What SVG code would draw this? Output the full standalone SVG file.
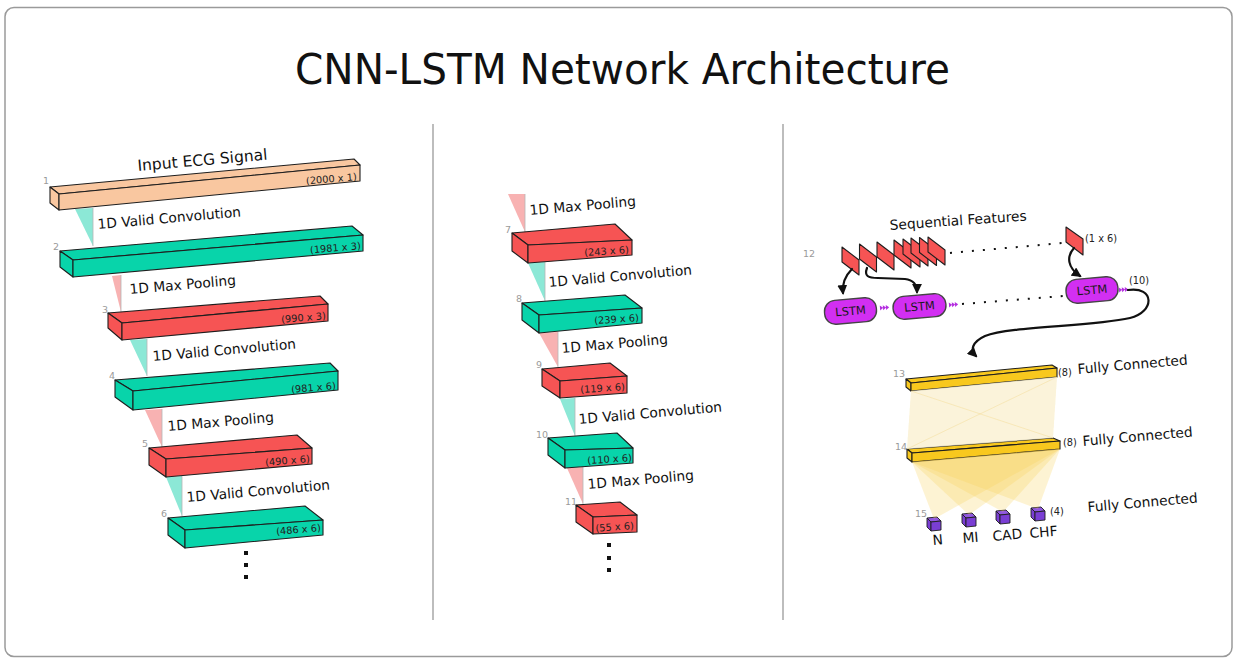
<svg xmlns="http://www.w3.org/2000/svg" width="1238" height="661" viewBox="0 0 1238 661">
<defs>
<style>
text{font-family:"DejaVu Sans",Verdana,sans-serif}
.lbl{font-size:13.8px;fill:#111}
.big{font-size:15.5px;fill:#111}
.dim{font-size:9.8px;fill:#222}
.num{font-size:9.5px;fill:#9a9a9a}
.box polygon{stroke:#1e1e1e;stroke-width:1.1;stroke-linejoin:round}
.peach polygon{fill:#f9c7a0}
.teal polygon{fill:#08d4aa}
.red polygon{fill:#f65454}
.gold polygon{fill:#f8c81e}
.cube polygon{fill:#7a3ed4;stroke:#1e1e1e;stroke-width:0.9;stroke-linejoin:round}
.cube polygon.t{fill:#9159e0}
.tt{fill:#8ce8d6}
.tp{fill:#f8b2b2}
.tedge{stroke:#b5b5b5;stroke-width:0.8}
.arr{fill:none;stroke:#111;stroke-width:2.2;stroke-linecap:round}
.dots{stroke:#111;stroke-width:2;stroke-dasharray:2 9}
.lstm rect{fill:#d22ff2;stroke:#444;stroke-width:1.4}
.lstm text{font-size:11.5px;fill:#1a1a1a;text-anchor:middle}
.div{stroke:#bdbdbd;stroke-width:2}
.fan1{fill:#f7d36a;fill-opacity:0.07}
.fan2{fill:#f7cf55;fill-opacity:0.26}
.fline{stroke:#f2d88a;stroke-width:0.8;stroke-opacity:0.5}
.sq{fill:#111}
</style>
<marker id="ah" viewBox="0 0 10 10" refX="8" refY="5" markerWidth="4.5" markerHeight="4.5" orient="auto" markerUnits="strokeWidth">
<path d="M0,0 L10,5 L0,10 z" fill="#111"/>
</marker>
<g id="chev" fill="#b42ee0">
<polygon points="0,-2.6 3.2,0 0,2.6"/>
<polygon points="3,-2.6 6.2,0 3,2.6"/>
<polygon points="6,-2.6 9.2,0 6,2.6"/>
</g>
</defs>
<rect x="0" y="0" width="1238" height="661" fill="#fff"/>
<rect x="5" y="7.5" width="1227" height="649" rx="9" fill="#fff" stroke="#9a9a9a" stroke-width="1.5"/>
<text x="295" y="84" font-size="42" fill="#111" textLength="655" lengthAdjust="spacingAndGlyphs">CNN-LSTM Network Architecture</text>
<line class="div" x1="433" y1="124" x2="433" y2="620"/>
<line class="div" x1="783" y1="124" x2="783" y2="620"/>

<g id="triangles">
<polygon class="tt" points="75,209 93,208 93,246"/><line class="tedge" x1="93" y1="208" x2="93" y2="246"/>
<polygon class="tp" points="112,276 121,275 121,312"/><line class="tedge" x1="121" y1="275" x2="121" y2="312"/>
<polygon class="tt" points="130,340 147,339 147,376"/><line class="tedge" x1="147" y1="339" x2="147" y2="376"/>
<polygon class="tp" points="145,410 162,409 162,447"/><line class="tedge" x1="162" y1="409" x2="162" y2="447"/>
<polygon class="tt" points="166,477 182,476 182,516"/><line class="tedge" x1="182" y1="476" x2="182" y2="516"/>
<polygon class="tp" points="508,194 525,194 525,232"/><line class="tedge" x1="525" y1="194" x2="525" y2="232"/>
<polygon class="tt" points="528,263 545,262 545,301"/><line class="tedge" x1="545" y1="262" x2="545" y2="301"/>
<polygon class="tp" points="539,333 558,332 558,367"/><line class="tedge" x1="558" y1="332" x2="558" y2="367"/>
<polygon class="tt" points="560,399 575,398 575,436"/><line class="tedge" x1="575" y1="398" x2="575" y2="436"/>
<polygon class="tp" points="567,468 583,467 583,504"/><line class="tedge" x1="583" y1="467" x2="583" y2="504"/>
</g>

<g id="n1" class="box peach">
<polygon points="50,187 354,159 360,165 59,194"/><polygon points="50,187 59,194 59,210 50,203"/><polygon points="59,194 360,165 360,181 59,210"/>
<text class="dim" x="357" y="180" text-anchor="end" transform="rotate(-5 357 180)">(2000 x 1)</text>
<text class="num" x="43" y="184">1</text>
<text class="big" x="138" y="171" transform="rotate(-5 138 171)">Input ECG Signal</text>
</g>
<text class="lbl" x="98" y="229" transform="rotate(-5 98 229)">1D Valid Convolution</text>
<g id="n2" class="box teal">
<polygon points="60,251 352,226 363,235 73,260"/><polygon points="60,251 73,260 73,277 60,267"/><polygon points="73,260 363,235 363,251 73,277"/>
<text class="dim" x="361" y="249" text-anchor="end" transform="rotate(-5 361 249)">(1981 x 3)</text>
<text class="num" x="53" y="250">2</text>
</g>
<text class="lbl" x="130" y="294" transform="rotate(-5 130 294)">1D Max Pooling</text>
<g id="n3" class="box red">
<polygon points="108,313 320,296 328,304 122,323"/><polygon points="108,313 122,323 122,340 108,328"/><polygon points="122,323 328,304 328,321 122,340"/>
<text class="dim" x="326" y="319" text-anchor="end" transform="rotate(-5 326 319)">(990 x 3)</text>
<text class="num" x="102" y="313">3</text>
</g>
<text class="lbl" x="153" y="361" transform="rotate(-5 153 361)">1D Valid Convolution</text>
<g id="n4" class="box teal">
<polygon points="115,380 330,363 338,371 133,391"/><polygon points="115,380 133,391 133,410 115,397"/><polygon points="133,391 338,371 338,390 133,410"/>
<text class="dim" x="336" y="389" text-anchor="end" transform="rotate(-5 336 389)">(981 x 6)</text>
<text class="num" x="109" y="379">4</text>
</g>
<text class="lbl" x="168" y="431" transform="rotate(-5 168 431)">1D Max Pooling</text>
<g id="n5" class="box red">
<polygon points="149,448 297,435 312,448 166,459"/><polygon points="149,448 166,459 166,477 149,465"/><polygon points="166,459 312,448 312,464 166,477"/>
<text class="dim" x="310" y="462" text-anchor="end" transform="rotate(-5 310 462)">(490 x 6)</text>
<text class="num" x="142" y="447">5</text>
</g>
<text class="lbl" x="187" y="502" transform="rotate(-5 187 502)">1D Valid Convolution</text>
<g id="n6" class="box teal">
<polygon points="168,518 305,506 323,520 185,530"/><polygon points="168,518 185,530 185,548 168,535"/><polygon points="185,530 323,520 323,535 185,548"/>
<text class="dim" x="321" y="531" text-anchor="end" transform="rotate(-5 321 531)">(486 x 6)</text>
<text class="num" x="161" y="517">6</text>
</g>
<g id="dots1"><rect class="sq" x="244" y="551" width="4" height="4"/><rect class="sq" x="244" y="563" width="4" height="4"/><rect class="sq" x="244" y="575" width="4" height="4"/></g>

<text class="lbl" x="530" y="215" transform="rotate(-5 530 215)">1D Max Pooling</text>
<g id="n7" class="box red">
<polygon points="512,233 615,224 632,240 528,245"/><polygon points="512,233 528,245 528,263 512,251"/><polygon points="528,245 632,240 632,255 528,263"/>
<text class="dim" x="629" y="253" text-anchor="end" transform="rotate(-4 629 253)">(243 x 6)</text>
<text class="num" x="505" y="233">7</text>
</g>
<text class="lbl" x="549" y="287" transform="rotate(-5 549 287)">1D Valid Convolution</text>
<g id="n8" class="box teal">
<polygon points="522,303 625,295 642,308 539,315"/><polygon points="522,303 539,315 539,333 522,320"/><polygon points="539,315 642,308 642,323 539,333"/>
<text class="dim" x="639" y="321" text-anchor="end" transform="rotate(-4 639 321)">(239 x 6)</text>
<text class="num" x="516" y="302">8</text>
</g>
<text class="lbl" x="562" y="353" transform="rotate(-5 562 353)">1D Max Pooling</text>
<g id="n9" class="box red">
<polygon points="542,369 610,363 627,376 560,381"/><polygon points="542,369 560,381 560,398 542,386"/><polygon points="560,381 627,376 627,393 560,398"/>
<text class="dim" x="625" y="390" text-anchor="end" transform="rotate(-4 625 390)">(119 x 6)</text>
<text class="num" x="536" y="368">9</text>
</g>
<text class="lbl" x="579" y="424" transform="rotate(-5 579 424)">1D Valid Convolution</text>
<g id="n10" class="box teal">
<polygon points="548,438 617,433 633,448 565,450"/><polygon points="548,438 565,450 565,468 548,455"/><polygon points="565,450 633,448 633,463 565,468"/>
<text class="dim" x="632" y="461" text-anchor="end" transform="rotate(-4 632 461)">(110 x 6)</text>
<text class="num" x="536" y="438">10</text>
</g>
<text class="lbl" x="588" y="489" transform="rotate(-5 588 489)">1D Max Pooling</text>
<g id="n11" class="box red">
<polygon points="576,505 620,502 637,515 593,517"/><polygon points="576,505 593,517 593,534 576,522"/><polygon points="593,517 637,515 637,532 593,534"/>
<text class="dim" x="634" y="529" text-anchor="end" transform="rotate(-4 634 529)">(55 x 6)</text>
<text class="num" x="565" y="505">11</text>
</g>
<g id="dots2"><rect class="sq" x="607" y="543" width="4" height="4"/><rect class="sq" x="607" y="556" width="4" height="4"/><rect class="sq" x="607" y="568" width="4" height="4"/></g>

<g id="n12" class="box red">
<text class="lbl" x="890" y="230" transform="rotate(-4 890 230)">Sequential Features</text>
<text class="num" x="803" y="257">12</text>
<polygon points="842,247 859,260 859,275 842,262"/>
<polygon points="859.5,244 876.5,257 876.5,272 859.5,259"/>
<polygon points="877,242 894,255 894,270 877,257"/>
<polygon points="894,240 911,253 911,268 894,255"/>
<polygon points="903,239 920,252 920,267 903,254"/>
<polygon points="911,238 928,251 928,266 911,253"/>
<polygon points="919.5,237.5 936.5,250.5 936.5,265.5 919.5,252.5"/>
<polygon points="928,237 945,250 945,265 928,252"/>
<polygon points="1066,227 1083,239 1083,255 1066,242"/>
<text class="dim" x="1085" y="242" font-size="10.5">(1 x 6)</text>
</g>
<g id="lstm1" class="lstm" transform="rotate(-5 850.5 311)"><rect x="824.5" y="299" width="52" height="24" rx="11"/><text x="850.5" y="315">LSTM</text></g>
<g id="lstm2" class="lstm" transform="rotate(-5 919.5 306.5)"><rect x="893" y="295" width="53" height="23" rx="11"/><text x="919.5" y="310.5">LSTM</text></g>
<g id="lstm3" class="lstm" transform="rotate(-5 1092 290)"><rect x="1066" y="278" width="52" height="24" rx="11"/><text x="1092" y="294">LSTM</text></g>
<use href="#chev" transform="translate(880,308) rotate(-5)"/>
<use href="#chev" transform="translate(949,305) rotate(-5)"/>
<use href="#chev" transform="translate(1119,290) rotate(-5)"/>
<text class="dim" x="1129" y="284" font-size="10">(10)</text>

<g id="n13" class="box gold">
<polygon points="906,379 1052,365 1057,368 911,383"/><polygon points="906,379 911,383 911,391 906,387"/><polygon points="911,383 1057,368 1057,377 911,391"/>
<text class="num" x="893" y="377">13</text>
<text class="dim" x="1058" y="376" font-size="10">(8)</text>
<text class="lbl" x="1078" y="374" transform="rotate(-5 1078 374)">Fully Connected</text>
</g>
<g id="n14" class="box gold">
<polygon points="907,449 1053,438 1060,441 912,453"/><polygon points="907,449 912,453 912,462 907,458"/><polygon points="912,453 1060,441 1060,449 912,462"/>
<text class="num" x="895" y="450">14</text>
<text class="dim" x="1063" y="446" font-size="10">(8)</text>
<text class="lbl" x="1083" y="446" transform="rotate(-5 1083 446)">Fully Connected</text>
</g>
<g id="n15">
<text class="num" x="915" y="517">15</text>
<g class="cube"><polygon class="t" points="927,518 937,517 941,521 931,522"/><polygon points="927,518 931,522 931,531 927,527"/><polygon points="931,522 941,521 941,530 931,531"/></g>
<g class="cube"><polygon class="t" points="962,514 972,513 976,517 966,518"/><polygon points="962,514 966,518 966,527 962,523"/><polygon points="966,518 976,517 976,526 966,527"/></g>
<g class="cube"><polygon class="t" points="996,511 1006,510 1010,514 1000,515"/><polygon points="996,511 1000,515 1000,524 996,520"/><polygon points="1000,515 1010,514 1010,523 1000,524"/></g>
<g class="cube"><polygon class="t" points="1031,508 1041,507 1045,511 1035,512"/><polygon points="1031,508 1035,512 1035,521 1031,517"/><polygon points="1035,512 1045,511 1045,520 1035,521"/></g>
<text class="dim" x="1050" y="515" font-size="10">(4)</text>
<text class="lbl" x="933" y="545" transform="rotate(-5 933 545)">N</text>
<text class="lbl" x="963" y="543" transform="rotate(-5 963 543)">MI</text>
<text class="lbl" x="993" y="541" transform="rotate(-5 993 541)">CAD</text>
<text class="lbl" x="1030" y="538" transform="rotate(-5 1030 538)">CHF</text>
<text class="lbl" x="1088" y="512" transform="rotate(-5 1088 512)">Fully Connected</text>
</g>

<g id="connectors">
<polygon points="911,391 1057,377 1053,438 907,449" fill="#fdf8e8" fill-opacity="0.8"/>
<polygon class="fan1" points="911,391 907,449 1053,438"/>
<polygon class="fan1" points="1057,377 907,449 1053,438"/>
<polygon class="fan1" points="907,449 911,391 1057,377"/>
<polygon class="fan1" points="1053,438 911,391 1057,377"/>
<line class="fline" x1="911" y1="391" x2="1053" y2="438"/>
<line class="fline" x1="1057" y1="377" x2="907" y2="449"/>
<polygon class="fan2" points="934,519 912,462 1060,449"/>
<polygon class="fan2" points="969,515 912,462 1060,449"/>
<polygon class="fan2" points="1003,512 912,462 1060,449"/>
<polygon class="fan2" points="1038,509 912,462 1060,449"/>
<line class="dots" x1="950" y1="253" x2="1062" y2="243"/>
<line class="dots" x1="962" y1="304" x2="1063" y2="296"/>
<path class="arr" d="M852,269 C845,276 842,283 843,293" marker-end="url(#ah)"/>
<path class="arr" d="M867,268 C864,276 868,278 878,278 L905,279 C914,280 917,285 917,292" marker-end="url(#ah)"/>
<path class="arr" d="M1074,248 C1066,257 1068,268 1080,276" marker-end="url(#ah)"/>
<path class="arr" d="M1128,290 C1155,286 1155,312 1130,318 C1090,327 1010,326 985,336 C972,342 970,350 976,356" marker-end="url(#ah)"/>
</g>
</svg>
